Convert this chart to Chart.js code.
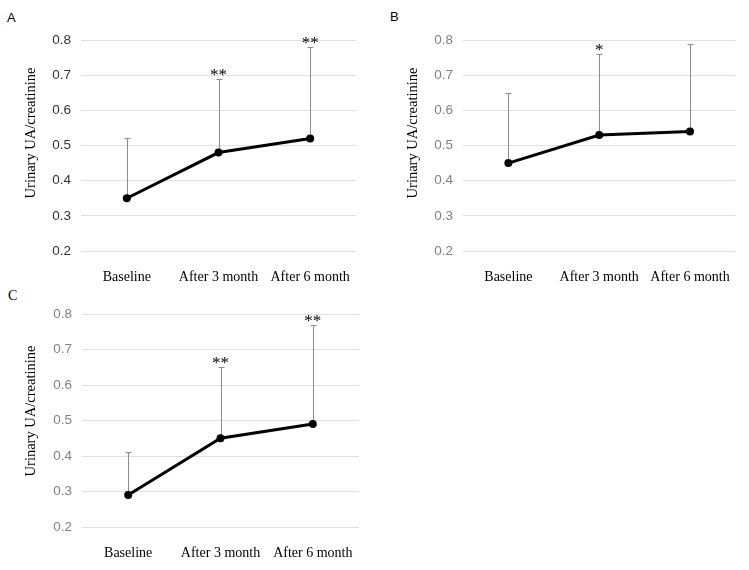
<!DOCTYPE html>
<html>
<head>
<meta charset="utf-8">
<script src="https://cdn.jsdelivr.net/npm/chart.js@4/dist/chart.umd.min.js"></script>
<style>
  html, body { margin: 0; padding: 0; background: #fff; }
  body { width: 749px; height: 570px; position: relative; overflow: hidden; }
  .panel { position: absolute; }
  .lbl { position: absolute; font-family: "Liberation Sans", Arial, sans-serif; font-size: 13px; color: #000; }
</style>
</head>
<body>
<div class="lbl" style="left:7px; top:10px;">A</div>
<div class="lbl" style="left:390px; top:9px;">B</div>
<div class="lbl" style="left:8px; top:288px; font-family:'Liberation Serif', serif; font-size:14px;">C</div>
<div class="panel" style="left:0px; top:0px; width:375px; height:290px;"><canvas id="cA"></canvas></div>
<div class="panel" style="left:375px; top:0px; width:374px; height:290px;"><canvas id="cB"></canvas></div>
<div class="panel" style="left:0px; top:280px; width:375px; height:290px;"><canvas id="cC"></canvas></div>
<script>
// ---- Data ----
const categories = ["Baseline", "After 3 month", "After 6 month"];
const yTicks = [0.2, 0.3, 0.4, 0.5, 0.6, 0.7, 0.8];
const axisTitle = "Urinary UA/creatinine";

const meanA = [0.35, 0.48, 0.52];
const errTopA = [0.52, 0.69, 0.78];
const starsA = ["", "**", "**"];

const meanB = [0.45, 0.53, 0.54];
const errTopB = [0.65, 0.76, 0.79];
const starsB = ["", "*", ""];

const meanC = [0.29, 0.45, 0.49];
const errTopC = [0.41, 0.65, 0.77];
const starsC = ["", "**", "**"];

// ---- Plugins ----
const errorBarPlugin = {
  id: 'errorBars',
  beforeDatasetsDraw(chart, args, opts) {
    const ctx = chart.ctx;
    const xs = chart.scales.x, ys = chart.scales.y;
    ctx.save();
    ctx.strokeStyle = '#8c8c8c';
    ctx.lineWidth = 1;
    opts.mean.forEach((m, i) => {
      const x = Math.round(xs.getPixelForValue(i)) + 0.5;
      const y0 = ys.getPixelForValue(m);
      const y1 = Math.round(ys.getPixelForValue(opts.top[i])) + 0.5;
      ctx.beginPath();
      ctx.moveTo(x, y0);
      ctx.lineTo(x, y1);
      ctx.moveTo(x - 3, y1);
      ctx.lineTo(x + 3, y1);
      ctx.stroke();
    });
    ctx.restore();
  },
  afterDatasetsDraw(chart, args, opts) {
    const ctx = chart.ctx;
    const xs = chart.scales.x, ys = chart.scales.y;
    ctx.save();
    ctx.fillStyle = '#000';
    ctx.font = '17px "Liberation Serif", serif';
    ctx.textAlign = 'center';
    ctx.textBaseline = 'alphabetic';
    opts.stars.forEach((s, i) => {
      if (!s) return;
      const x = xs.getPixelForValue(i);
      const y = ys.getPixelForValue(opts.top[i]);
      ctx.fillText(s, x, y + 1);
    });
    ctx.restore();
  },
  afterDraw(chart, args, opts) {
    const ctx = chart.ctx;
    ctx.save();
    ctx.fillStyle = '#000';
    ctx.font = '14.5px "Liberation Serif", serif';
    ctx.textAlign = 'center';
    ctx.textBaseline = 'middle';
    ctx.translate(opts.titleX, opts.titleY);
    ctx.rotate(-Math.PI / 2);
    ctx.fillText(axisTitle, 0, 0);
    ctx.restore();
  }
};

function makeChart(id, mean, top, stars, tickColor, pad, yWidth, xHeight, titleX, titleY) {
  return new Chart(document.getElementById(id), {
    type: 'line',
    data: {
      labels: categories,
      datasets: [{
        data: mean,
        borderColor: '#000',
        backgroundColor: '#000',
        borderWidth: 3,
        pointRadius: 4,
        pointBackgroundColor: '#000',
        pointBorderColor: '#000',
        pointBorderWidth: 0,
        tension: 0,
        clip: false
      }]
    },
    options: {
      responsive: true,
      maintainAspectRatio: false,
      animation: false,
      events: [],
      layout: { padding: pad },
      plugins: {
        legend: { display: false },
        tooltip: { enabled: false },
        errorBars: { mean: mean, top: top, stars: stars, titleX: titleX, titleY: titleY }
      },
      scales: {
        x: {
          type: 'category',
          offset: true,
          grid: { display: false, drawTicks: false },
          border: { display: false },
          ticks: {
            color: '#000',
            padding: 18,
            maxRotation: 0,
            autoSkip: false,
            font: { family: '"Liberation Serif", serif', size: 14 }
          },
          afterFit(s) { s.height = xHeight; }
        },
        y: {
          min: 0.2,
          max: 0.8,
          afterBuildTicks(s) { s.ticks = yTicks.map(v => ({ value: v })); },
          grid: { color: '#e0e0e0', lineWidth: 1, drawTicks: false },
          border: { display: false },
          ticks: {
            color: tickColor,
            padding: 10,
            font: { family: '"Liberation Sans", Arial, sans-serif', size: 13.5 },
            callback: v => Number(v).toFixed(1)
          },
          title: { display: false },
          afterFit(s) { s.width = yWidth; }
        }
      }
    },
    plugins: [errorBarPlugin]
  });
}

makeChart('cA', meanA, errTopA, starsA, '#333333', { top: 40, right: 19, left: 0, bottom: 0 }, 81, 39, 31, 133);
makeChart('cB', meanB, errTopB, starsB, '#808080', { top: 40, right: 8, left: 0, bottom: 0 }, 88, 39, 38, 133);
makeChart('cC', meanC, errTopC, starsC, '#808080', { top: 34, right: 16, left: 0, bottom: 0 }, 82, 43, 31, 131);
</script>
</body>
</html>
